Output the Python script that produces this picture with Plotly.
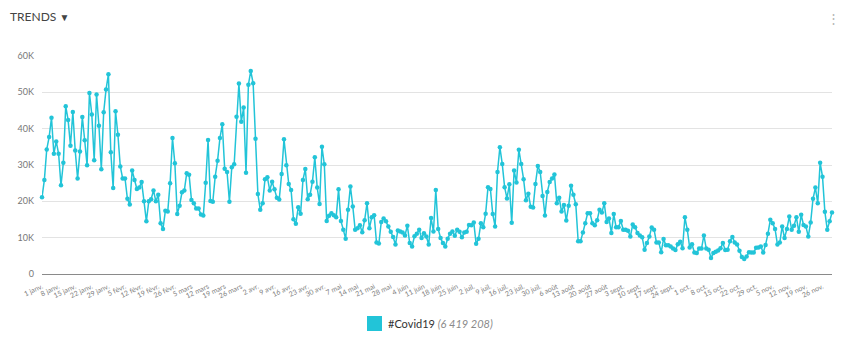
import pandas as pd
import plotly.graph_objects as go

# ---------------- data (values in thousands of mentions, daily from 1 Jan 2021) ----------------
start_date = "2021-01-01"
series_name = "#Covid19"
series_total = "6 419 208"
values_k = [
    # Jan 1 - Feb 19
    21.1, 25.9, 34.3, 37.7, 43.0, 33.1, 36.5, 33.1, 24.4, 30.6,
    46.2, 42.4, 35.3, 44.6, 34.0, 26.3, 33.7, 43.2, 36.8, 29.9,
    49.8, 43.9, 31.3, 49.4, 40.8, 28.8, 44.5, 50.8, 55.0, 33.5,
    23.7, 44.8, 38.3, 29.6, 26.3, 26.3, 20.7, 19.1, 28.5, 25.9,
    23.4, 23.8, 25.3, 20.0, 14.5, 20.0, 20.6, 23.0, 20.0, 21.8,
    # Feb 20 - Apr 16
    14.0, 12.4, 17.4, 17.2, 25.0, 37.4, 30.5, 16.5, 18.8, 22.5,
    23.0, 27.7, 27.3, 20.4, 19.5, 18.0, 18.0, 16.4, 16.1, 25.1,
    36.9, 20.1, 19.9, 26.8, 31.2, 37.4, 41.2, 29.0, 28.1, 19.9,
    29.4, 30.2, 43.3, 52.4, 41.9, 45.8, 27.9, 52.1, 55.9, 52.5,
    37.2, 22.0, 17.7, 19.5, 26.1, 26.6, 23.0, 25.4, 23.3, 21.0,
    20.5, 27.5, 37.1, 29.9, 24.8, 23.1,
    # Apr 17 - Jun 9
    15.1, 13.8, 18.4, 16.6, 25.9, 28.9, 20.6, 21.8, 25.4, 32.1,
    23.8, 19.3, 35.0, 30.2, 14.6, 16.0, 16.7, 16.2, 15.6, 23.3,
    14.6, 12.2, 9.7, 17.7, 24.1, 18.6, 12.2, 12.6, 13.4, 11.5,
    14.8, 19.5, 12.6, 15.6, 16.2, 8.7, 8.4, 14.3, 15.3, 14.5,
    13.1, 11.6, 10.2, 8.1, 12.0, 11.7, 11.4, 10.6, 13.3, 8.5,
    7.6, 10.4, 11.1, 12.2,
    # Jun 10 - Aug 3
    9.9, 11.2, 10.3, 8.1, 15.4, 11.7, 23.1, 12.4, 9.9, 8.5,
    7.6, 9.7, 11.1, 11.7, 10.5, 12.2, 11.6, 10.1, 11.4, 11.6,
    13.5, 13.4, 14.2, 8.3, 9.7, 14.0, 12.9, 16.6, 23.9, 23.4,
    16.5, 13.1, 28.1, 34.9, 30.3, 23.9, 20.8, 24.7, 14.1, 28.5,
    25.2, 34.2, 30.3, 26.1, 20.3, 22.1, 18.5, 18.3, 24.8, 29.7,
    28.1, 21.5, 16.1, 22.6, 25.3,
    # Aug 4 - Sep 27
    26.3, 27.4, 19.5, 21.0, 17.2, 19.0, 14.7, 18.8, 24.3, 21.8,
    19.2, 9.0, 9.0, 11.4, 14.0, 16.7, 16.7, 14.0, 13.4, 14.8,
    17.7, 16.9, 19.5, 14.3, 15.3, 11.3, 16.5, 12.9, 12.9, 14.6,
    12.2, 12.2, 11.9, 10.3, 13.6, 12.9, 11.3, 10.6, 10.1, 6.7,
    8.5, 10.3, 12.8, 12.2, 8.7, 8.7, 6.0, 9.6, 7.9, 7.9,
    7.6, 7.0, 6.6, 8.2, 8.9,
    # Sep 28 - Nov 30
    7.1, 15.6, 12.2, 7.3, 8.2, 5.9, 5.8, 7.0, 7.0, 10.6,
    7.0, 6.7, 4.4, 5.8, 6.1, 6.5, 7.1, 8.5, 6.6, 6.7,
    9.0, 10.2, 8.7, 8.1, 6.4, 4.7, 4.1, 4.8, 6.0, 5.9,
    5.9, 7.2, 7.3, 7.6, 5.9, 8.0, 11.1, 14.9, 14.0, 12.4,
    8.1, 8.7, 13.1, 9.9, 12.4, 15.8, 12.2, 13.3, 15.6, 11.6,
    16.3, 13.5, 13.1, 10.3, 14.2, 20.7, 23.8, 19.5, 30.6, 26.8,
    17.1, 12.2, 14.5, 16.9,
]
tick_dates = [
    "2021-01-01", "2021-01-08", "2021-01-15", "2021-01-22", "2021-01-29",
    "2021-02-05", "2021-02-12", "2021-02-19", "2021-02-26",
    "2021-03-05", "2021-03-12", "2021-03-19", "2021-03-26",
    "2021-04-02", "2021-04-09", "2021-04-16", "2021-04-23", "2021-04-30",
    "2021-05-07", "2021-05-14", "2021-05-21", "2021-05-28",
    "2021-06-04", "2021-06-11", "2021-06-18", "2021-06-25",
    "2021-07-02", "2021-07-09", "2021-07-16", "2021-07-23", "2021-07-30",
    "2021-08-06", "2021-08-13", "2021-08-20", "2021-08-27",
    "2021-09-03", "2021-09-10", "2021-09-17", "2021-09-24",
    "2021-10-01", "2021-10-08", "2021-10-15", "2021-10-22", "2021-10-29",
    "2021-11-05", "2021-11-12", "2021-11-19", "2021-11-26",
]
tick_labels = [
    "1 janv.", "8 janv.", "15 janv.", "22 janv.", "29 janv.",
    "5 févr.", "12 févr.", "19 févr.", "26 févr.",
    "5 mars", "12 mars", "19 mars", "26 mars",
    "2 avr.", "9 avr.", "16 avr.", "23 avr.", "30 avr.",
    "7 mai", "14 mai", "21 mai", "28 mai",
    "4 juin", "11 juin", "18 juin", "25 juin",
    "2 juil.", "9 juil.", "16 juil.", "23 juil.", "30 juil.",
    "6 août", "13 août", "20 août", "27 août",
    "3 sept.", "10 sept.", "17 sept.", "24 sept.",
    "1 oct.", "8 oct.", "15 oct.", "22 oct.", "29 oct.",
    "5 nov.", "12 nov.", "19 nov.", "26 nov.",
]
y_tickvals = [0, 10, 20, 30, 40, 50, 60]
y_ticklabels = ["0", "10K", "20K", "30K", "40K", "50K", "60K"]

dates = pd.date_range(start_date, periods=len(values_k), freq="D")

# ---------------- figure ----------------
W, H = 850, 338
ML, MR, MT, MB = 42, 18, 56, 64
PW, PH = W - ML - MR, H - MT - MB
COLOR = "#22c4d8"
FONT = "Lato"


def px_x(px):
    return (px - ML) / PW


def px_y(py):
    return (H - MB - py) / PH


fig = go.Figure()
fig.add_trace(go.Scatter(
    x=dates, y=values_k, mode="lines+markers",
    line=dict(color=COLOR, width=1.5),
    marker=dict(color=COLOR, size=4.5),
    cliponaxis=False, showlegend=False, name=series_name,
))

fig.update_layout(
    width=W, height=H, autosize=False,
    margin=dict(l=ML, r=MR, t=MT, b=MB, pad=0),
    paper_bgcolor="white", plot_bgcolor="white",
    font=dict(family=FONT, color="#666"),
    title=dict(
        text="TRENDS <span style='font-size:10px'>▼</span>",
        x=10 / W, xanchor="left", xref="container",
        y=1 - 17 / H, yanchor="middle", yref="container",
        font=dict(family=FONT, size=12, color="#444"),
    ),
    xaxis=dict(
        type="date", range=[dates[0], dates[-1]],
        tickmode="array", tickvals=tick_dates, ticktext=tick_labels,
        tickangle=-25, tickfont=dict(size=7, color="#808080"),
        showgrid=False, zeroline=False,
        showline=True, linecolor="#8a8a8a", linewidth=1,
        ticks="", ticklabelstandoff=5,
    ),
    yaxis=dict(
        range=[0, 60], tickmode="array", tickvals=y_tickvals, ticktext=y_ticklabels,
        showgrid=True, gridcolor="#e3e3e3", gridwidth=1,
        zeroline=False, showline=False, ticks="",
        tickfont=dict(size=9, color="#777"), ticklabelstandoff=7,
    ),
    hovermode="x",
)

# menu dots
fig.add_annotation(
    x=px_x(833), y=px_y(18), xref="paper", yref="paper",
    text="⋮", showarrow=False, font=dict(size=13, color="#b5b5b5"),
    xanchor="center", yanchor="middle",
)

# custom legend
fig.add_shape(
    type="rect", xref="paper", yref="paper",
    x0=px_x(367), x1=px_x(382), y0=px_y(331), y1=px_y(316),
    fillcolor=COLOR, line=dict(width=0), layer="above",
)
fig.add_annotation(
    x=px_x(386), y=px_y(323.5), xref="paper", yref="paper",
    text=f"<span style='color:#333'>{series_name}</span> "
         f"<span style='color:#8a8a8a'><i>({series_total})</i></span>",
    showarrow=False, xanchor="left", yanchor="middle",
    font=dict(family=FONT, size=11),
)

fig.write_html("out.html")
